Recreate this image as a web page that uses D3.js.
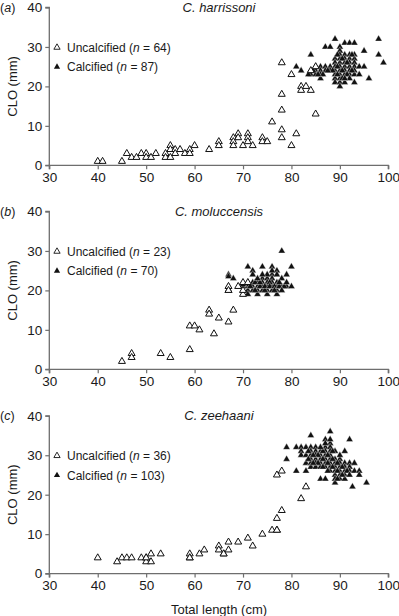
<!DOCTYPE html>
<html>
<head>
<meta charset="utf-8">
<script src="https://cdn.jsdelivr.net/npm/d3@7"></script>
<style>
  html, body { margin: 0; padding: 0; background: #fff; }
  svg { display: block; font-family: "Liberation Sans", Arial, Helvetica, sans-serif; }
</style>
</head>
<body>
<svg id="chart" width="399" height="616"></svg>
<script>
// ---------- DATA ----------
const xTicks = [30, 40, 50, 60, 70, 80, 90, 100];
const yTicks = [0, 10, 20, 30, 40];
const panelLetters = ["a", "b", "c"];
const speciesNames = ["C. harrissoni", "C. moluccensis", "C. zeehaani"];
const uncalcifiedN = [64, 23, 36];
const calcifiedN = [87, 70, 103];

// Panel (a) C. harrissoni  [total length cm, CLO mm]
const harrissoniUncalcified = [
  [40,1],[41,1],[45,1],[46,3],[47,2],[48,2],[49,3],[50,3],[50,2],[51,2],[52,3],
  [54,3],[54,2],[55,5],[55,4],[55,2],[56,4],[56,3],[57,4],[58,3],[59,4],[59,3],[60,5],
  [63,4],[65,6],[65,5],[68,7],[68,6],[68,5],[69,8],[69,7],[70,5],[71,8],[71,7],[71,6],
  [72,5],[74,7],[74,6],[75,6],[76,11],[78,26],[78,18],[78,14],[78,9],[78,7],[80,23],
  [80,5],[81,8],[82,20],[82,19],[83,20],[84,19],[85,13],[85,25],[84,24]
];
const harrissoniCalcified = [
  [81,25],[82,24],[84,28],[84,24],[84,23],[85,25],[85,24],[85,23],
  [86,25],[86,24],[86,23],[86,22],[87,30],[87,25],[87,24],[88,30],[88,25],[88,24],
  [89,32],[89,27],[89,26],[89,25],[89,24],[89,23],[89,22],[89,21],
  [90,30],[90,29],[90,28],[90,27],[90,26],[90,25],[90,24],[90,23],[90,22],[90,21],
  [91,31],[91,28],[91,27],[91,26],[91,25],[91,24],[91,23],[91,21],
  [92,31],[92,28],[92,27],[92,26],[92,25],[92,24],[92,23],
  [93,31],[93,28],[93,27],[93,26],[93,25],[93,24],[93,23],[93,21],
  [94,25],[94,23],[95,29],[95,25],[96,22],[98,32],[98,28],[99,26],
  [89.5,28],[89.5,25],[89.5,23],[90.5,27],[90.5,24],[90.5,22],[91.5,26],[91.5,23],
  [92.5,28],[92.5,24],[88.5,24],[87.5,24],[86.5,23],[85.5,23],[84.5,24],[83.5,23],
  [92,22],[91,22],[90,20]
];

// Panel (b) C. moluccensis
const moluccensisUncalcified = [
  [45,2],[47,4],[47,3],[53,4],[55,3],[59,5],[59,11],[60,11],[61,10],[63,15],[63,14],
  [64,9],[65,13],[67,12],[67,20],[67,21],[68,15],[69,21],[70,22],[70,19],[70,20],[71,22],[67,20]
];
const moluccensisCalcified = [
  [67,24],[67,23.5],[67,21],[68,23],[70,21],[70,20],
  [71,26],[71,22],[71,21],[71,20],[71,19],[72,25],[72,24],[72,22],[72,21],[72,20],
  [73,22],[73,21],[73,20],[73,19],[74,26],[74,23],[74,22],[74,21],[74,20],
  [75,23],[75,22],[75,21],[75,20],[75,19],[76,26],[76,24],[76,23],[76,22],[76,21],[76,20],
  [77,25],[77,24],[77,22],[77,21],[77,20],[77,19],[78,30],[78,23],[78,21],
  [79,24],[79,21],[80,26],[80,21],
  [71.5,21],[72.5,20],[72.5,22],[73.5,21],[73.5,22],[74.5,20],[74.5,21],[75.5,22],
  [75.5,21],[76.5,21],[76.5,20],[77.5,21],[77.5,22],[78.5,21],[75,24],[76,25],
  [73,23],[74,24],[78,20],[79,22],[70,21.5]
];

// Panel (c) C. zeehaani
const zeehaaniUncalcified = [
  [40,4],[44,3],[45,4],[46,4],[47,4],[49,4],[50,4],[50,3],[51,5],[51,3],[53,5],
  [59,5],[59,4],[61,5],[62,6],[65,7],[65,6],[66,5],[67,8],[67,6],[69,8],[71,9],[72,7],
  [74,10],[76,11],[77,11],[77,14],[78,16],[82,19],[83,22],[77,25],[78,26],
  [50,4],[59,4],[66,5],[77,11]
];
const zeehaaniCalcified = [
  [79,32],[79,29],[81,32],[81,26],[82,32],[82,31],[82,30],
  [83,32],[83,30],[83,28],[83,26],
  [84,35],[84,32],[84,31],[84,30],[84,29],[84,28],[84,27],
  [85,32],[85,31],[85,30],[85,29],[85,28],[85,27],
  [86,31],[86,30],[86,29],[86,28],[86,27],[86,24],
  [87,34],[87,32],[87,31],[87,30],[87,29],[87,28],[87,27],[87,24],
  [88,36],[88,33],[88,32],[88,31],[88,30],[88,29],[88,28],[88,27],[88,26],
  [89,31],[89,29],[89,28],[89,27],[89,26],[89,25],[89,24],[89,23],
  [90,29],[90,28],[90,27],[90,26],[90,25],[90,24],
  [91,31],[91,28],[91,27],[91,26],[91,25],[91,24],
  [92,34],[92,28],[92,27],[92,26],[92.6,22],[93,28],[93,26],[94,26],[94,25],[95.5,23],
  [85.5,30],[85.5,28],[86.5,31],[86.5,29],[86.5,27],[87.5,30],[87.5,28],[87.5,26],
  [88.5,31],[88.5,29],[88.5,27],[89.5,28],[89.5,26],[89.5,24],[90.5,27],[90.5,25],
  [84.5,30],[84.5,28],[83.5,31],[83.5,29],[91.5,26],[90,30],[86,32],[87,33],[88,34],[92,25]
];

const panelsUncalc = [harrissoniUncalcified, moluccensisUncalcified, zeehaaniUncalcified];
const panelsCalc = [harrissoniCalcified, moluccensisCalcified, zeehaaniCalcified];

// ---------- LAYOUT ----------
const svg = d3.select("#chart");
const xLeft = 49.3, xRight = 388.3;
const panelTops = [7.5, 211.5, 415.8];
const panelH = 157.8;
const axisColor = "#6e6e6e";
const textColor = "#1a1a1a";

const x = d3.scaleLinear().domain([30, 100]).range([xLeft, xRight]);
const tri = d3.symbol().type(d3.symbolTriangle).size(21);
const triLegend = d3.symbol().type(d3.symbolTriangle).size(17);

panelLetters.forEach((letter, i) => {
  const top = panelTops[i];
  const y = d3.scaleLinear().domain([0, 40]).range([top + panelH, top]);
  const g = svg.append("g");

  // axes
  const xAxis = g.append("g")
    .attr("transform", `translate(0,${top + panelH})`)
    .call(d3.axisBottom(x).tickValues(xTicks).tickSize(4).tickPadding(3).tickFormat(d3.format("d")));
  const yAxis = g.append("g")
    .attr("transform", `translate(${xLeft},0)`)
    .call(d3.axisLeft(y).tickValues(yTicks).tickSize(4).tickPadding(3).tickFormat(d3.format("d")));
  [xAxis, yAxis].forEach(a => {
    a.select(".domain").attr("stroke", axisColor).attr("stroke-width", 1.3);
    a.selectAll(".tick line").attr("stroke", axisColor).attr("stroke-width", 1.2);
    a.selectAll(".tick text").attr("fill", textColor).style("font-size", "13.5px")
      .style("font-family", '"Liberation Sans", Arial, sans-serif');
  });
  xAxis.select(".domain").attr("d", `M${xLeft},4V0H${xRight}V4`);
  yAxis.select(".domain").attr("d", `M-4,${top + panelH}H0V${top}H-4`);

  // y label
  g.append("text")
    .attr("transform", `translate(16.5,${top + panelH / 2}) rotate(-90)`)
    .attr("text-anchor", "middle")
    .attr("fill", textColor)
    .style("font-size", "13px")
    .text("CLO (mm)");

  // panel letter
  const pl = g.append("text").attr("x", 0).attr("y", top + 4.5)
    .attr("fill", textColor).style("font-size", "12.5px");
  pl.append("tspan").text("(");
  pl.append("tspan").style("font-style", "italic").text(letter);
  pl.append("tspan").text(")");

  // species title
  g.append("text").attr("x", 219).attr("y", top + 4.5)
    .attr("text-anchor", "middle").attr("fill", textColor)
    .style("font-size", "13px").style("font-style", "italic")
    .text(speciesNames[i]);

  // points: calcified (filled) then uncalcified (open)
  g.append("g").selectAll("path").data(panelsCalc[i]).join("path")
    .attr("d", tri)
    .attr("transform", d => `translate(${x(d[0])},${y(d[1])})`)
    .attr("fill", "#111").attr("stroke", "#fff").attr("stroke-width", 0.35);
  g.append("g").selectAll("path").data(panelsUncalc[i]).join("path")
    .attr("d", tri)
    .attr("transform", d => `translate(${x(d[0])},${y(d[1])})`)
    .attr("fill", "#fff").attr("stroke", "#111").attr("stroke-width", 1);

  // legend
  const ly1 = y(30) + 0.5, ly2 = ly1 + 19.5;
  g.append("path").attr("d", triLegend).attr("transform", `translate(57,${ly1})`)
    .attr("fill", "#fff").attr("stroke", "#111").attr("stroke-width", 0.9);
  g.append("path").attr("d", triLegend).attr("transform", `translate(57,${ly2})`)
    .attr("fill", "#111");
  const t1 = g.append("text").attr("x", 67).attr("y", ly1 + 4.5).attr("fill", textColor).style("font-size", "12px");
  t1.append("tspan").text("Uncalcified (");
  t1.append("tspan").style("font-style", "italic").text("n");
  t1.append("tspan").text(` = ${uncalcifiedN[i]})`);
  const t2 = g.append("text").attr("x", 67).attr("y", ly2 + 4.5).attr("fill", textColor).style("font-size", "12px");
  t2.append("tspan").text("Calcified (");
  t2.append("tspan").style("font-style", "italic").text("n");
  t2.append("tspan").text(` = ${calcifiedN[i]})`);
});

// x axis title
svg.append("text").attr("x", 219).attr("y", 614)
  .attr("text-anchor", "middle").attr("fill", textColor)
  .style("font-size", "13px").text("Total length (cm)");
</script>
</body>
</html>
